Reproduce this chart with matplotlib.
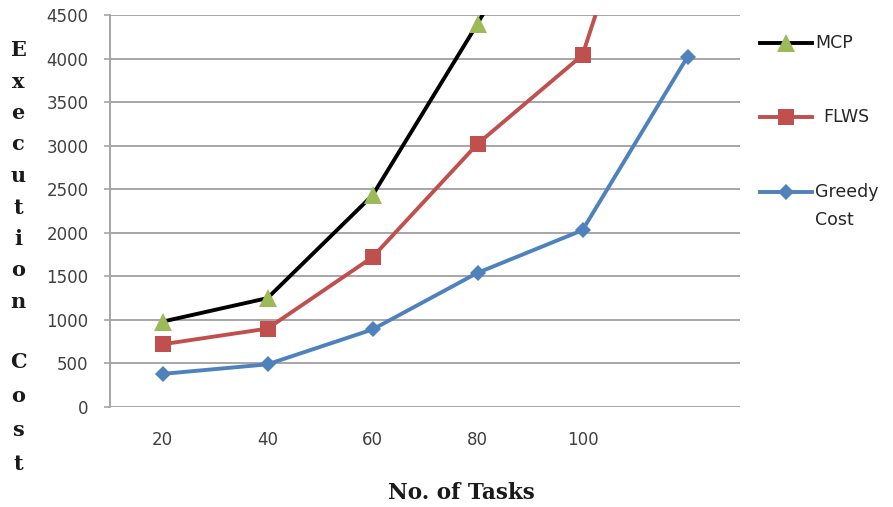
import numpy as np
import matplotlib
matplotlib.use("Agg")
import matplotlib.pyplot as plt
from matplotlib.lines import Line2D

# ---- data ----
task_labels = ["20", "40", "60", "80", "100", ""]
mcp = [980, 1250, 2430, 4400, 6500, 8600]
flws = [720, 900, 1720, 3020, 4040, 7750]
greedy = [380, 490, 890, 1540, 2030, 4020]
series_names = ["MCP", "FLWS", "Greedy\nCost"]
y_ticks = list(range(0, 4501, 500))

W, H = 893, 507
fig = plt.figure(figsize=(W / 100, H / 100), dpi=100)
ax = fig.add_axes([110 / W, 100 / H, 630 / W, 392 / H])

x = np.arange(1, len(task_labels) + 1)

c_black = "#000000"
c_green = "#9BBB59"
c_red = "#C0504D"
c_blue = "#4F81BD"
grid_c = "#a6a6a6"

ax.plot(x, mcp, color=c_black, lw=2.8, marker="^", ms=12.5, mfc=c_green, mec=c_green, mew=0, zorder=5)
ax.plot(x, flws, color=c_red, lw=2.8, marker="s", ms=11, mfc=c_red, mec=c_red, mew=0, zorder=4)
ax.plot(x, greedy, color=c_blue, lw=2.8, marker="D", ms=8.5, mfc=c_blue, mec=c_blue, mew=0, zorder=3)

ax.set_xlim(0.5, len(task_labels) + 0.5)
ax.set_ylim(0, 4500)
ax.set_yticks(y_ticks)
ax.set_yticklabels([str(v) for v in y_ticks])
ax.set_xticks(x)
ax.set_xticklabels(task_labels)

ax.yaxis.grid(True, color=grid_c, lw=1.4)
ax.set_axisbelow(True)
for s in ["top", "right", "bottom"]:
    ax.spines[s].set_visible(False)
ax.spines["left"].set_color(grid_c)
ax.spines["left"].set_linewidth(1.4)

ax.tick_params(axis="y", length=4.5, width=1.2, color=grid_c, pad=11, labelsize=12, labelcolor="#404040")
ax.tick_params(axis="x", length=0, pad=17, labelsize=12, labelcolor="#404040")

# x label
fig.text(461 / W, 1 - 493 / H, "No. of Tasks", ha="center", va="center",
         fontfamily="DejaVu Serif", fontweight="bold", fontsize=15.5, color="#1a1a1a")

# stacked y label
letters = list("Execution") + list("Cost")
ys = [50 + 31.5 * i for i in range(9)] + [362 + 34 * i for i in range(4)]
for ch, yy in zip(letters, ys):
    fig.text(18 / W, 1 - yy / H, ch, ha="center", va="center",
             fontfamily="DejaVu Serif", fontweight="bold", fontsize=15, color="#1a1a1a")

# legend (manual, right side)
leg_items = [
    (series_names[0], c_black, c_green, "^", 12.5, 43, 815),
    (series_names[1], c_red, c_red, "s", 11, 117, 823),
    (series_names[2], c_blue, c_blue, "D", 8.5, 192, 815),
]
for name, lc, mc, mk, ms, yy, tx in leg_items:
    yf = 1 - yy / H
    fig.add_artist(Line2D([760 / W, 812 / W], [yf, yf], transform=fig.transFigure,
                          color=lc, lw=2.8))
    fig.add_artist(Line2D([786 / W], [yf], transform=fig.transFigure, marker=mk,
                          ms=ms, mfc=mc, mec=mc, mew=0, lw=0))
    lines = name.split("\n")
    for i, part in enumerate(lines):
        fig.text(tx / W, 1 - (yy + 28 * i) / H, part, ha="left", va="center",
                 fontsize=12.5, color="#262626")

fig.savefig("out.png", dpi=100)
